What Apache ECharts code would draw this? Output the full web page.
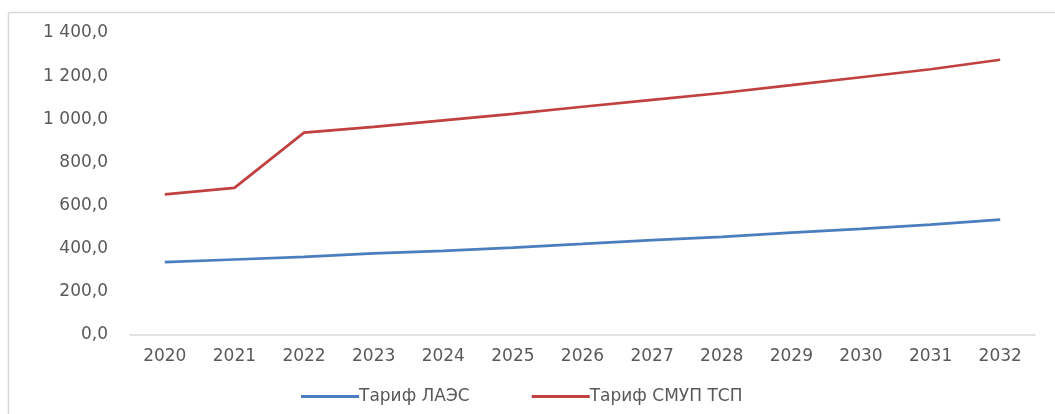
<!DOCTYPE html>
<html>
<head>
<meta charset="utf-8">
<script src="https://cdn.jsdelivr.net/npm/echarts@6/dist/echarts.min.js"></script>
<style>html,body{margin:0;padding:0;background:#fff;}#c{width:1055px;height:414px;}</style>
</head>
<body>
<div id="c"></div>
<script>
var years = ['2020','2021','2022','2023','2024','2025','2026','2027','2028','2029','2030','2031','2032'];
var tariffLAES = [338, 350, 362, 378, 390, 405, 422, 440, 455, 475, 492, 512, 535];
var tariffSMUP = [652, 682, 938, 965, 995, 1025, 1058, 1090, 1122, 1158, 1195, 1232, 1276];
var seriesNames = ['Тариф ЛАЭС', 'Тариф СМУП ТСП'];

function fmt(v) {
  var s = v.toFixed(1).split('.');
  var i = s[0].replace(/\B(?=(\d{3})+(?!\d))/g, ' ');
  return i + ',' + s[1];
}
var font = 'DejaVu Sans';
var chart = echarts.init(document.getElementById('c'), null, {renderer: 'canvas'});
chart.setOption({
  animation: false,
  backgroundColor: '#ffffff',
  grid: {left: 130, right: 20, top: 33, bottom: 79, containLabel: false},
  graphic: [
    {type: 'line', shape: {x1: 8.5, y1: 12.5, x2: 1055, y2: 12.5}, style: {stroke: '#d9d9d9', lineWidth: 1.5}},
    {type: 'line', shape: {x1: 8.5, y1: 12.5, x2: 8.5, y2: 414}, style: {stroke: '#d9d9d9', lineWidth: 1.5}}
  ],
  legend: {
    left: 296, top: 383,
    itemWidth: 58, itemHeight: 3, itemGap: 62,
    icon: 'rect',
    textStyle: {fontFamily: font, fontSize: 17, color: '#595959', padding: [0, 0, 0, -5]},
    data: seriesNames
  },
  xAxis: {
    type: 'category',
    data: years,
    boundaryGap: true,
    axisLine: {lineStyle: {color: '#d9d9d9', width: 1.5}},
    axisTick: {show: false},
    axisLabel: {fontFamily: font, fontSize: 17, color: '#595959', margin: 13}
  },
  yAxis: {
    type: 'value',
    min: 0, max: 1400, interval: 200,
    axisLine: {show: false},
    axisTick: {show: false},
    splitLine: {show: false},
    axisLabel: {fontFamily: font, fontSize: 17, color: '#595959', margin: 22, formatter: fmt}
  },
  series: [
    {name: seriesNames[0], type: 'line', data: tariffLAES, symbol: 'none', lineStyle: {width: 2.7, color: '#4a7ebf'}, itemStyle: {color: '#4a7ebf'}},
    {name: seriesNames[1], type: 'line', data: tariffSMUP, symbol: 'none', lineStyle: {width: 2.7, color: '#c0413f'}, itemStyle: {color: '#c0413f'}}
  ]
});
</script>
</body>
</html>
